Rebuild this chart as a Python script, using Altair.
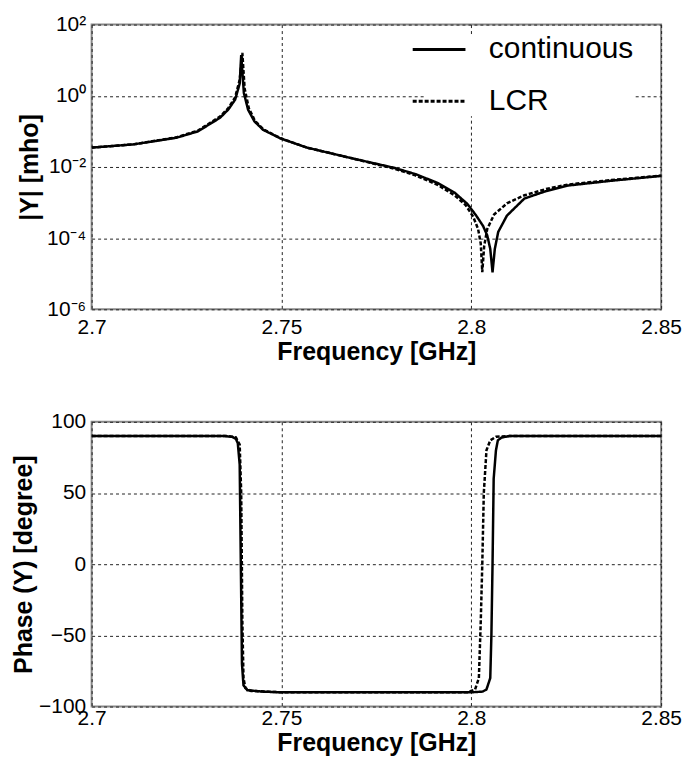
import altair as alt
import pandas as pd

# ---- data ----
series_names = ["continuous", "LCR"]

mag_freq_cont = [2.700, 2.7109, 2.7223, 2.728, 2.7338, 2.736, 2.7378, 2.739, 2.7394, 2.7401,
                 2.7412, 2.7429, 2.7452, 2.7498, 2.7567, 2.7681, 2.7796, 2.7853, 2.791, 2.7956,
                 2.799, 2.8013, 2.8031, 2.8042, 2.805, 2.8056, 2.8062, 2.8071, 2.8094, 2.814,
                 2.8197, 2.8254, 2.8369, 2.85]
mag_cont = [3.5e-2, 4.3e-2, 6.6e-2, 0.10, 0.24, 0.41, 0.78, 2.2, 14, 1.2,
            0.41, 0.19, 0.11, 6.3e-2, 3.5e-2, 1.8e-2, 9.5e-3, 6.3e-3, 3.6e-3, 1.9e-3,
            9.1e-4, 4.3e-4, 2.2e-4, 1.2e-4, 5.0e-5, 1.1e-5, 5.0e-5, 1.5e-4, 4.3e-4, 1.3e-3,
            2.1e-3, 3.0e-3, 4.1e-3, 5.6e-3]

mag_freq_lcr = [2.700, 2.7109, 2.7223, 2.728, 2.7338, 2.736, 2.7378, 2.739, 2.7397, 2.7403,
                2.7414, 2.743, 2.7452, 2.7498, 2.7567, 2.7681, 2.7796, 2.7853, 2.791, 2.7956,
                2.7985, 2.8005, 2.8018, 2.8025, 2.8029, 2.8034, 2.8042, 2.806, 2.8094, 2.814,
                2.8197, 2.8254, 2.8369, 2.85]
mag_lcr = [3.5e-2, 4.3e-2, 6.8e-2, 0.105, 0.26, 0.45, 0.9, 2.8, 16, 1.6,
           0.45, 0.2, 0.115, 6.4e-2, 3.5e-2, 1.8e-2, 9.0e-3, 5.8e-3, 3.2e-3, 1.6e-3,
           8.5e-4, 4.0e-4, 1.8e-4, 7e-5, 1.1e-5, 6e-5, 1.8e-4, 4.6e-4, 9.5e-4, 1.6e-3,
           2.4e-3, 3.2e-3, 4.3e-3, 5.7e-3]

ph_freq_cont = [2.700, 2.735, 2.737, 2.738, 2.7385, 2.739, 2.7393, 2.7396, 2.740, 2.741,
                2.745, 2.750, 2.800, 2.803, 2.804, 2.805, 2.8053, 2.8056, 2.8059, 2.8065,
                2.807, 2.808, 2.810, 2.850]
ph_cont = [90, 90, 89.5, 88, 85, 70, 0, -70, -85, -88.5,
           -89.5, -90, -90, -89.5, -88, -80, -50, 0, 60, 80,
           87, 89, 90, 90]

ph_freq_lcr = [2.700, 2.736, 2.738, 2.739, 2.7394, 2.7397, 2.740, 2.7405, 2.742, 2.750,
               2.799, 2.801, 2.802, 2.8025, 2.8029, 2.8033, 2.804, 2.805, 2.8065, 2.810,
               2.850]
ph_lcr = [90, 90, 89, 84, 50, -40, -80, -87, -89, -90,
          -90, -88, -80, -40, 0, 50, 80, 87, 89.5, 90,
          90]

x_ticks = [2.7, 2.75, 2.8, 2.85]
mag_ticks = [1e-6, 1e-4, 1e-2, 1, 1e2]
mag_tick_exps = [-6, -4, -2, 0, 2]
mag_tick_labels = ["10⁻⁶", "10⁻⁴", "10⁻²", "10⁰", "10²"]
ph_ticks = [-100, -50, 0, 50, 100]

# ---- tables ----
mag_df = pd.concat([
    pd.DataFrame({"f": mag_freq_cont, "v": mag_cont, "s": series_names[0]}),
    pd.DataFrame({"f": mag_freq_lcr, "v": mag_lcr, "s": series_names[1]}),
])
ph_df = pd.concat([
    pd.DataFrame({"f": ph_freq_cont, "v": ph_cont, "s": series_names[0]}),
    pd.DataFrame({"f": ph_freq_lcr, "v": ph_lcr, "s": series_names[1]}),
])

FONT = "Liberation Sans"
label_expr = " : ".join(
    f"round(log(datum.value)/LN10) == {e} ? '{l}'" for e, l in zip(mag_tick_exps, mag_tick_labels)
) + " : ''"

dash_scale = alt.Scale(domain=series_names, range=[[1, 0], [4, 2]])

W, H = 572, 286


def x_enc(label_pad):
    return alt.X("f:Q", scale=alt.Scale(domain=[2.7, 2.85], nice=False, zero=False),
                 axis=alt.Axis(values=x_ticks, format=".2~f", title="Frequency [GHz]",
                               labelFlush=False, labelPadding=label_pad, titlePadding=2))


top = alt.Chart(mag_df).mark_line(color="black", strokeWidth=2.5, clip=True).encode(
    x=x_enc(7),
    y=alt.Y("v:Q", scale=alt.Scale(type="log", domain=[1e-6, 1e2], nice=False),
            axis=alt.Axis(values=mag_ticks, labelExpr=label_expr, title="|Y| [mho]",
                          titleX=-62, titleBaseline="middle")),
    strokeDash=alt.StrokeDash("s:N", scale=dash_scale, sort=series_names,
                              legend=alt.Legend(title=None, orient="none", legendX=334, legendY=10,
                                                fillColor="white", padding=0,
                                                symbolType="M-2,0H2", symbolSize=702,
                                                symbolStrokeWidth=3, symbolStrokeColor="black",
                                                labelFontSize=30, labelFont=FONT,
                                                labelOffset=35, rowPadding=22)),
).properties(width=W, height=H)

bottom = alt.Chart(ph_df).mark_line(color="black", strokeWidth=2.5, clip=True).encode(
    x=x_enc(1),
    y=alt.Y("v:Q", scale=alt.Scale(domain=[-100, 100], nice=False),
            axis=alt.Axis(values=ph_ticks, title="Phase (Y) [degree]",
                          titleX=-68, titleBaseline="middle")),
    strokeDash=alt.StrokeDash("s:N", scale=dash_scale, legend=None),
).properties(width=W, height=H)

chart = alt.vconcat(top, bottom, spacing=113, bounds="flush").resolve_scale(
    strokeDash="independent"
).properties(
    padding={"left": 3, "top": 3, "right": 0, "bottom": 0},
).configure_view(
    stroke="#888888", strokeWidth=2
).configure_axis(
    domain=False, ticks=False,
    grid=True, gridColor="#222222", gridDash=[3, 3], gridWidth=1, gridOpacity=1,
    labelFont=FONT, labelFontSize=21, labelColor="black",
    titleFont=FONT, titleFontSize=25, titleFontWeight="bold", titleColor="black",
).configure_axisY(
    labelPadding=6,
)

chart.save("out.html", embed_options={"renderer": "svg", "actions": False})
